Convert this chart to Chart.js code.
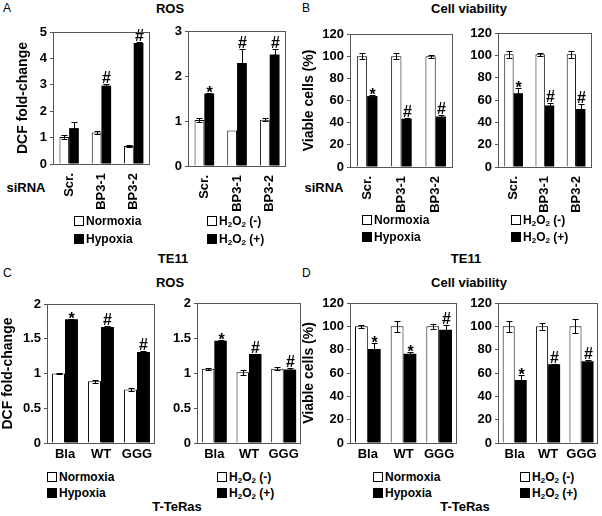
<!DOCTYPE html>
<html>
<head>
<meta charset="utf-8">
<script src="https://cdn.jsdelivr.net/npm/chart.js@4.4.0/dist/chart.umd.min.js"></script>
<style>
body { margin: 0; background: #fff; }
#wrap { position: relative; width: 602px; height: 516px; font-family: "Liberation Sans", Arial, sans-serif; color: #000; overflow: hidden; }
#wrap canvas { position: absolute; }
.t { position: absolute; font-weight: bold; font-size: 13px; line-height: 14px; white-space: nowrap; transform: translate(-50%, -50%); }
.p { position: absolute; font-size: 12px; line-height: 14px; }
.lg { position: absolute; font-weight: bold; font-size: 12px; white-space: nowrap; }
.lg div { height: 17px; line-height: 17px; }
.lg i { display: inline-block; width: 8px; height: 8px; border: 1px solid #000; margin-right: 2px; vertical-align: -1px; background: #fff; }
.lg i.k { background: #000; }
sub { font-size: 8px; vertical-align: -2px; line-height: 0; }
</style>
</head>
<body>
<div id="wrap">
  <div class="p" style="left:3px;top:1px">A</div>
  <div class="p" style="left:302px;top:1px">B</div>
  <div class="p" style="left:3px;top:266px">C</div>
  <div class="p" style="left:302px;top:266px">D</div>
  <div class="t" style="left:170px;top:9px">ROS</div>
  <div class="t" style="left:469px;top:9px">Cell viability</div>
  <div class="t" style="left:170px;top:283px">ROS</div>
  <div class="t" style="left:469px;top:283px">Cell viability</div>
  <div class="t" style="left:26px;top:188px">siRNA</div>
  <div class="t" style="left:324px;top:188px">siRNA</div>
  <div class="t" style="left:173px;top:259px">TE11</div>
  <div class="t" style="left:466px;top:259px">TE11</div>
  <div class="t" style="left:177px;top:507px">T-TeRas</div>
  <div class="t" style="left:465px;top:507px">T-TeRas</div>
</div>
<script>
// categories
var siRNA = ['Scr.', 'BP3-1', 'BP3-2'];
var constructs = ['Bla', 'WT', 'GGG'];

// series names
var oxygenSeries = ['Normoxia', 'Hypoxia'];
var h2o2Series = ['H<sub>2</sub>O<sub>2</sub> (-)', 'H<sub>2</sub>O<sub>2</sub> (+)'];

// y ranges [min, max, step]
var rosRangeA1 = [0, 5, 1];
var rosRangeA2 = [0, 3, 1];
var rosRangeC = [0, 2, 0.5];
var viabRange = [0, 120, 20];

// A - ROS, TE11
var aNorm = [1.02, 1.19, 0.68], aNormErr = [0.09, 0.06, 0.03];
var aHyp = [1.36, 2.97, 4.58], aHypErr = [0.23, 0.07, 0.04], aHypSig = ['', '#', '#'];
var aMinus = [1.02, 0.79, 1.03], aMinusErr = [0.04, 0, 0.04];
var aPlus = [1.61, 2.29, 2.48], aPlusErr = [0.01, 0.31, 0.11], aPlusSig = ['*', '#', '#'];

// B - cell viability, TE11
var bNorm = [100, 100, 100], bNormErr = [3, 3, 1.5];
var bHyp = [64, 43.5, 45.5], bHypErr = [1.2, 0.5, 1.5], bHypSig = ['*', '#', '#'];
var bMinus = [101, 101, 101], bMinusErr = [3, 1.5, 3];
var bPlus = [66, 55, 52], bPlusErr = [5, 2.5, 4], bPlusSig = ['*', '#', '#'];

// C - ROS, T-TeRas
var cNorm = [1.0, 0.89, 0.77], cNormErr = [0.005, 0.02, 0.015];
var cHyp = [1.78, 1.67, 1.31], cHypErr = [0.01, 0.01, 0.015], cHypSig = ['*', '#', '#'];
var cMinus = [1.06, 1.01, 1.06], cMinusErr = [0.01, 0.04, 0.02];
var cPlus = [1.46, 1.27, 1.05], cPlusErr = [0.005, 0.005, 0.02], cPlusSig = ['*', '#', '#'];

// D - cell viability, T-TeRas
var dNorm = [100, 100, 100], dNormErr = [1, 5, 2];
var dHyp = [80.5, 76.5, 97], dHypErr = [5, 1.5, 4], dHypSig = ['*', '*', '#'];
var dMinus = [100, 100, 100], dMinusErr = [5, 3, 6];
var dPlus = [54, 67.5, 70], dPlusErr = [4, 0.5, 1], dPlusSig = ['*', '#', '#'];

var PAD_T = 12;
var wrap = document.getElementById('wrap');

// error bars, significance marks and the box round the plot
var extras = {
    id: 'extras',
    afterDatasetsDraw: function (chart) {
        var ctx = chart.ctx, y = chart.scales.y, a = chart.chartArea;
        ctx.save();
        ctx.strokeStyle = '#000';
        ctx.fillStyle = '#000';
        ctx.lineWidth = 1;
        ctx.textAlign = 'center';
        ctx.textBaseline = 'alphabetic';
        chart.data.datasets.forEach(function (ds, i) {
            chart.getDatasetMeta(i).data.forEach(function (bar, j) {
                var v = ds.data[j], e = ds.errors[j];
                var x = Math.round(bar.x) + 0.5;
                var top = Math.round(y.getPixelForValue(v + e)) + 0.5;
                var bot = Math.round(y.getPixelForValue(v - e)) + 0.5;
                if (e > 0) {
                    ctx.beginPath();
                    ctx.moveTo(x, top); ctx.lineTo(x, bot);
                    ctx.moveTo(x - 3, top); ctx.lineTo(x + 3, top);
                    ctx.moveTo(x - 3, bot); ctx.lineTo(x + 3, bot);
                    ctx.stroke();
                }
                var s = ds.sig && ds.sig[j];
                if (s) {
                    ctx.font = 'bold 16px "Liberation Sans", Arial, sans-serif';
                    ctx.fillText(s, x, top - 2 + (s === '*' ? 6 : 0));
                }
            });
        });
        ctx.strokeStyle = '#555';
        ctx.strokeRect(Math.round(a.left) + 0.5, Math.round(a.top) + 0.5,
            Math.round(a.right) - Math.round(a.left) - 1, Math.round(a.bottom) - Math.round(a.top));
        ctx.restore();
    }
};

function legend(left, top, rowH, names) {
    var d = document.createElement('div');
    d.className = 'lg';
    d.style.left = left + 'px';
    d.style.top = top + 'px';
    d.innerHTML = '<div style="height:' + rowH + 'px;line-height:' + rowH + 'px"><i></i>' + names[0] + '</div>' +
        '<div style="height:' + rowH + 'px;line-height:' + rowH + 'px"><i class="k"></i>' + names[1] + '</div>';
    wrap.appendChild(d);
}

function panel(s) {
    var c = document.createElement('canvas');
    c.width = s.yW + (s.R - s.L) + s.padR;
    c.height = PAD_T + (s.B - s.T) + s.xH;
    c.style.left = (s.L - s.yW) + 'px';
    c.style.top = (s.T - PAD_T) + 'px';
    wrap.appendChild(c);
    var tickFont = { family: '"Liberation Sans", Arial, sans-serif', size: 13, weight: 'bold' };
    new Chart(c, {
        type: 'bar',
        data: {
            labels: s.labels,
            datasets: [
                { data: s.v0, errors: s.e0, backgroundColor: '#fff', borderColor: '#000', borderWidth: 1 },
                { data: s.v1, errors: s.e1, sig: s.sig, backgroundColor: '#000', borderColor: '#000', borderWidth: 0 }
            ]
        },
        options: {
            responsive: false,
            animation: false,
            devicePixelRatio: 1,
            layout: { padding: { top: PAD_T, right: s.padR, left: 0, bottom: 0 } },
            datasets: { bar: { categoryPercentage: s.cat, barPercentage: 1 } },
            plugins: { legend: { display: false }, tooltip: { enabled: false } },
            scales: {
                x: {
                    grid: { display: false, drawTicks: false },
                    border: { display: false },
                    ticks: { color: '#000', font: tickFont, autoSkip: false, padding: s.rot ? 9 : 4,
                        minRotation: s.rot, maxRotation: s.rot },
                    afterFit: function (sc) { sc.height = s.xH; }
                },
                y: {
                    min: s.range[0], max: s.range[1],
                    ticks: { stepSize: s.range[2], color: '#000', font: tickFont, padding: 3,
                        callback: function (v) { return String(v); } },
                    grid: { drawOnChartArea: false, drawTicks: true, tickLength: 3, color: '#555' },
                    border: { display: false },
                    title: {
                        display: !!s.title, text: s.title || '', color: '#000', padding: 0,
                        font: { family: '"Liberation Sans", Arial, sans-serif', size: 14, weight: 'bold' }
                    },
                    afterFit: function (sc) { sc.width = s.yW; }
                }
            }
        },
        plugins: [extras]
    });
}

// A
panel({ L: 53, R: 155, T: 32, B: 164, yW: 38, xH: 56, padR: 4, cat: 0.6, rot: 90, labels: siRNA, range: rosRangeA1,
    title: 'DCF fold-change', v0: aNorm, e0: aNormErr, v1: aHyp, e1: aHypErr, sig: aHypSig });
panel({ L: 188, R: 291, T: 31, B: 166, yW: 30, xH: 56, padR: 4, cat: 0.6, rot: 90, labels: siRNA, range: rosRangeA2,
    v0: aMinus, e0: aMinusErr, v1: aPlus, e1: aPlusErr, sig: aPlusSig });
// B
panel({ L: 350, R: 457, T: 34, B: 167, yW: 49, xH: 56, padR: 4, cat: 0.6, rot: 90, labels: siRNA, range: viabRange,
    title: 'Viable cells (%)', v0: bNorm, e0: bNormErr, v1: bHyp, e1: bHypErr, sig: bHypSig });
panel({ L: 498, R: 599, T: 33, B: 167, yW: 35, xH: 56, padR: 2, cat: 0.6, rot: 90, labels: siRNA, range: viabRange,
    v0: bMinus, e0: bMinusErr, v1: bPlus, e1: bPlusErr, sig: bPlusSig });
// C
panel({ L: 47, R: 155, T: 304, B: 443, yW: 47, xH: 20, padR: 4, cat: 0.72, rot: 0, labels: constructs, range: rosRangeC,
    title: 'DCF fold-change', v0: cNorm, e0: cNormErr, v1: cHyp, e1: cHypErr, sig: cHypSig });
panel({ L: 197, R: 301, T: 303, B: 443, yW: 35, xH: 20, padR: 4, cat: 0.72, rot: 0, labels: constructs, range: rosRangeC,
    v0: cMinus, e0: cMinusErr, v1: cPlus, e1: cPlusErr, sig: cPlusSig });
// D
panel({ L: 350, R: 457, T: 303, B: 443, yW: 49, xH: 20, padR: 4, cat: 0.72, rot: 0, labels: constructs, range: viabRange,
    title: 'Viable cells (%)', v0: dNorm, e0: dNormErr, v1: dHyp, e1: dHypErr, sig: dHypSig });
panel({ L: 498, R: 599, T: 303, B: 443, yW: 35, xH: 20, padR: 2, cat: 0.72, rot: 0, labels: constructs, range: viabRange,
    v0: dMinus, e0: dMinusErr, v1: dPlus, e1: dPlusErr, sig: dPlusSig });

legend(74, 212, 18, oxygenSeries);
legend(207, 212, 18, h2o2Series);
legend(362, 212, 17, oxygenSeries);
legend(511, 212, 17, h2o2Series);
legend(47, 469, 16, oxygenSeries);
legend(217, 469, 16, h2o2Series);
legend(373, 469, 16, oxygenSeries);
legend(520, 469, 16, h2o2Series);
</script>
</body>
</html>
